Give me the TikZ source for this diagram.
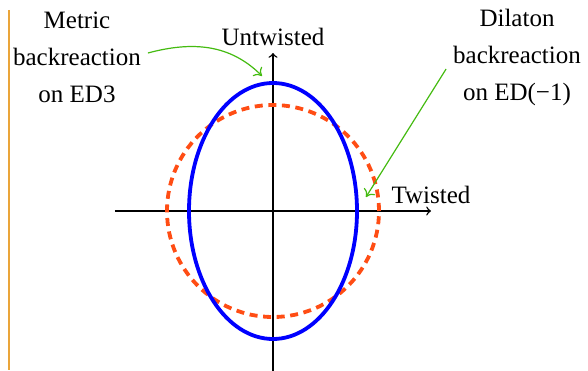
\documentclass[tikz,border=0pt]{standalone}
\usepackage{fontspec}
\setmainfont{Liberation Serif}
\usetikzlibrary{calc,arrows.meta}

\definecolor{rimorange}{RGB}{234,165,58}
\definecolor{dashorange}{RGB}{255,77,20}
\definecolor{pointgreen}{RGB}{68,187,17}

\begin{document}
\begin{tikzpicture}[x=0.5pt, y=0.5pt, line cap=butt, >=to,
    lbl/.style={align=center, font=\fontsize{12.5}{18.5}\selectfont},
    pointer/.style={-{To[length=3.5pt, width=6.5pt]}, pointgreen, line width=0.6pt}]
    \useasboundingbox (-273,-159) rectangle (315,211);

    % edge rule on the left
    \draw[rimorange, line width=0.8pt] (-264,201) -- (-264,-159);

    \coordinate (O) at (0,0);
    \coordinate (X0) at (-158,0);
    \coordinate (X) at (158,0);
    \coordinate (Y0) at (0,-160);
    \coordinate (Y) at (0,158);

    \draw[->, line width=0.7pt] (X0) -- (X) node[lbl, above] (tw) {Twisted};
    \draw[->, line width=0.7pt] (Y0) -- (Y) node[lbl, above] (untw) {Untwisted};

    \draw[dashorange, line width=1.9pt, dash pattern=on 4pt off 2.8pt] (O) circle[radius=106];
    \draw[blue, line width=1.9pt] (O) ellipse[x radius=84, y radius=128];

    \node[lbl] (metric) at (-196,154) {Metric\\backreaction\\on ED3};
    \node[lbl] (dilaton) at (244,154) {Dilaton\\backreaction\\on ED(−1)};

    \coordinate (tipM) at (-11,135);
    \coordinate (tipD) at (93,14);
    \draw[pointer] ([yshift=2pt]metric.east) to[out=15, in=135] (tipM);
    \draw[pointer] ([yshift=-6pt]dilaton.west) -- (tipD);
\end{tikzpicture}
\end{document}
